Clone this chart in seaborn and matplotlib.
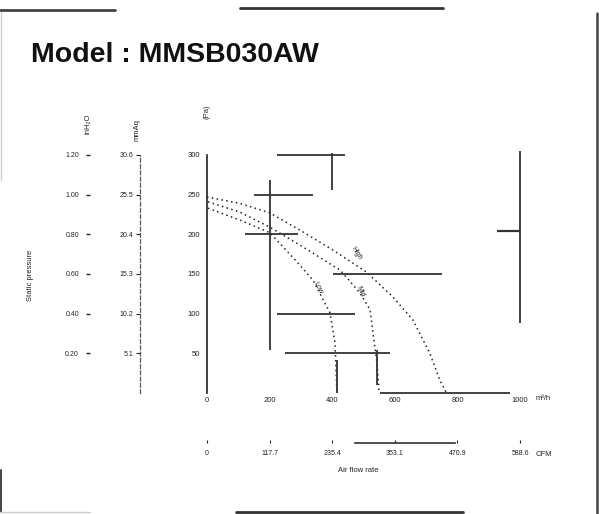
import matplotlib
matplotlib.use("Agg")
import matplotlib.pyplot as plt
import seaborn as sns
import pandas as pd
from matplotlib.lines import Line2D

# ---------------- data ----------------
speeds = ["High", "Mid", "Low"]
high_flow = [0, 105, 201, 307, 403, 511, 594, 658, 712, 744, 765]
high_pa = [247, 239, 227, 203, 180, 152, 121, 92, 50, 16, 0]
mid_flow = [3, 105, 201, 307, 425, 489, 521, 530, 543, 550]
mid_pa = [241, 228, 209, 184, 155, 126, 105, 76, 38, 0]
low_flow = [3, 105, 201, 288, 339, 393, 409, 415]
low_pa = [233, 218, 202, 165, 142, 101, 63, 0]

pa_ticks = [50, 100, 150, 200, 250, 300]
pa_labels = ["50", "100", "150", "200", "250", "300"]
mmaq_labels = ["5.1", "10.2", "15.3", "20.4", "25.5", "30.6"]
inh2o_labels = ["0.20", "0.40", "0.60", "0.80", "1.00", "1.20"]
flow_ticks = [0, 200, 400, 600, 800, 1000]
flow_labels = ["0", "200", "400", "600", "800", "1000"]
cfm_labels = ["0", "117.7", "235.4", "353.1", "470.9", "588.6"]

# visible fragments of the (partly faded) grid, in data units
grid_h_pa = [300, 250, 200, 150, 100, 50, 0]
grid_h_from = [224, 150, 121, 403, 224, 249, 553]
grid_h_to = [441, 339, 291, 751, 473, 585, 968]
grid_v_flow = [400, 200, 415, 543, 1000]
grid_v_from = [256, 54, 0, 10, 88]
grid_v_to = [303, 268, 42, 54, 305]

# ---------------- figure ----------------
sns.set_style("white")
plt.rcParams["font.family"] = ["Liberation Sans", "DejaVu Sans"]
W, H = 599, 514
fig = plt.figure(figsize=(W / 100, H / 100), dpi=100)


def fx(x):
    return x / W


def fy(y):
    return 1 - y / H


X0, X1, Y0, Y1 = 207, 520, 393, 155
ax = fig.add_axes([fx(X0), fy(Y0), (X1 - X0) / W, (Y0 - Y1) / H])
ax.set_xlim(0, 1000)
ax.set_ylim(0, 300)
ax.set_facecolor("none")

ink = "#222222"
df = pd.concat([
    pd.DataFrame({"flow": high_flow, "pa": high_pa, "speed": speeds[0]}),
    pd.DataFrame({"flow": mid_flow, "pa": mid_pa, "speed": speeds[1]}),
    pd.DataFrame({"flow": low_flow, "pa": low_pa, "speed": speeds[2]}),
])
for sp in speeds:
    sub = df[df["speed"] == sp]
    sns.lineplot(data=sub, x="flow", y="pa", ax=ax, sort=False, estimator=None,
                 color=ink, lw=1.1, linestyle=(0, (1, 2.2)), clip_on=False)

ax.hlines(grid_h_pa, grid_h_from, grid_h_to, color="#333333", lw=1.3, clip_on=False)
ax.vlines(grid_v_flow, grid_v_from, grid_v_to, color="#333333", lw=1.3, clip_on=False)
ax.hlines([204], [927], [1000], color="#333333", lw=1.6, clip_on=False)

# curve labels
ax.text(476, 176, "High", rotation=-58, fontsize=5, ha="center", va="center", color=ink)
ax.text(489, 128, "Mid", rotation=-65, fontsize=5, ha="center", va="center", color=ink)
ax.text(355, 133, "Low", rotation=-62, fontsize=5, ha="center", va="center", color=ink)

ax.set_xlabel("")
ax.set_ylabel("")
for s in ["top", "right", "bottom"]:
    ax.spines[s].set_visible(False)
ax.spines["left"].set_color(ink)
ax.spines["left"].set_linewidth(1.2)
ax.set_yticks(pa_ticks, labels=pa_labels)
ax.set_xticks(flow_ticks, labels=flow_labels)
ax.tick_params(axis="y", length=3, width=0.8, labelsize=5.5, pad=2, colors=ink)
ax.tick_params(axis="x", length=0, labelsize=5.5, pad=3, colors=ink)

# secondary pressure axes
ident = (lambda v: v, lambda v: v)
sec_mm = ax.secondary_yaxis((140 - X0) / (X1 - X0), functions=ident)
sec_mm.set_yticks(pa_ticks, labels=mmaq_labels)
sec_mm.tick_params(length=3, width=0.8, labelsize=5, pad=2, colors=ink)
for s in sec_mm.spines.values():
    s.set_color("#555555")
    s.set_linewidth(0.9)
    s.set_linestyle((0, (3, 2)))

sec_in = ax.secondary_yaxis((88 - X0) / (X1 - X0), functions=ident)
sec_in.set_yticks(pa_ticks, labels=inh2o_labels)
sec_in.tick_params(length=3, width=1.0, labelsize=5, pad=5, colors=ink, direction="inout")
for s in sec_in.spines.values():
    s.set_visible(False)

# secondary flow axis (CFM)
sec_cfm = ax.secondary_xaxis((Y0 - 443) / (Y0 - Y1), functions=ident)
sec_cfm.set_xticks(flow_ticks, labels=cfm_labels)
sec_cfm.tick_params(length=2, width=0.8, labelsize=5, pad=5, colors=ink, direction="in")
for name, s in sec_cfm.spines.items():
    s.set_color("#333333")
    s.set_linewidth(1.2)
    s.set_bounds(473, 792)

# axis texts
fig.text(fx(30), fy(275), "Static pressure", rotation=90, fontsize=5.5,
         ha="center", va="center", color=ink)
fig.text(fx(207), fy(112), "(Pa)", rotation=90, fontsize=5.5, ha="center", va="center", color=ink)
fig.text(fx(137), fy(130), "mmAq", rotation=90, fontsize=5.5, ha="center", va="center", color=ink)
fig.text(fx(88), fy(124), "inH\u2082O", rotation=90, fontsize=5.5, ha="center", va="center", color=ink)
fig.text(fx(358), fy(470), "Air flow rate", fontsize=5.5, ha="center", va="center", color=ink)
fig.text(fx(536), fy(399), "m\u00b3/h", fontsize=5.5, ha="left", va="center", color=ink)
fig.text(fx(536), fy(455), "CFM", fontsize=5.5, ha="left", va="center", color=ink)

# title
fig.text(fx(31), fy(62), "Model : MMSB030AW", fontsize=20.5, fontweight="bold",
         ha="left", va="baseline", color="#111111")

# page frame fragments (x0, y0, x1, y1, colour, width)
frame = [
    (0, 10, 115, 10, "#444444", 2.0),
    (240, 8, 443, 8, "#333333", 2.0),
    (597, 13, 597, 514, "#444444", 1.8),
    (1, 12, 1, 180, "#cccccc", 1.0),
    (1, 470, 1, 512, "#444444", 1.4),
    (236, 512, 463, 512, "#333333", 2.0),
    (0, 512, 90, 512, "#cccccc", 1.0),
]
for x0, y0, x1, y1, c, lw in frame:
    fig.add_artist(Line2D([fx(x0), fx(x1)], [fy(y0), fy(y1)],
                          transform=fig.transFigure, color=c, lw=lw))

fig.savefig("out.png", dpi=100)
